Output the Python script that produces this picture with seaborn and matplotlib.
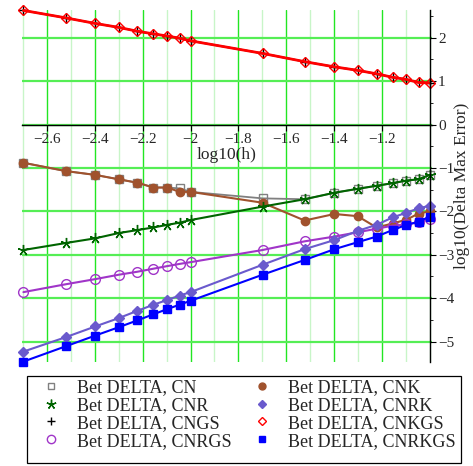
import seaborn as sns
import matplotlib.pyplot as plt
import matplotlib.ticker as mticker
from matplotlib.lines import Line2D
from matplotlib.patches import Rectangle
import pandas as pd

# log10 of step size h
log_h = [-2.699, -2.523, -2.398, -2.301, -2.222, -2.155, -2.097, -2.046, -2.0,
         -1.699, -1.523, -1.398, -1.301, -1.222, -1.155, -1.097, -1.046, -1.0]

# log10 of max error for each scheme
cn = [-0.88, -1.07, -1.16, -1.26, -1.34, -1.45, -1.45, -1.47, -1.55,
      -1.70, -1.72, -1.57, -1.48, -1.41, -1.35, -1.29, -1.26, -1.16]
cnr = [-2.89, -2.73, -2.62, -2.50, -2.43, -2.37, -2.31, -2.26, -2.20,
       -1.89, -1.72, -1.57, -1.48, -1.41, -1.35, -1.29, -1.26, -1.16]
cngs = [2.63, 2.46, 2.33, 2.24, 2.15, 2.09, 2.04, 1.99, 1.93,
        1.64, 1.45, 1.33, 1.25, 1.17, 1.09, 1.04, 0.97, 0.96]
cnrgs = [-3.86, -3.68, -3.56, -3.46, -3.39, -3.32, -3.26, -3.21, -3.17,
         -2.89, -2.69, -2.58, -2.48, -2.40, -2.33, -2.30, -2.25, -2.18]
cnk = [-0.88, -1.07, -1.16, -1.26, -1.34, -1.45, -1.45, -1.55, -1.55,
       -1.80, -2.21, -2.06, -2.11, -2.37, -2.28, -2.19, -2.05, -2.00]
cnrk = [-5.23, -4.90, -4.65, -4.46, -4.29, -4.15, -4.04, -3.94, -3.86,
        -3.23, -2.87, -2.66, -2.45, -2.31, -2.14, -2.03, -1.93, -1.87]
cnkgs = [2.63, 2.46, 2.33, 2.24, 2.15, 2.09, 2.04, 1.99, 1.93,
         1.64, 1.45, 1.33, 1.25, 1.17, 1.09, 1.04, 0.97, 0.96]
cnrkgs = [-5.46, -5.11, -4.86, -4.67, -4.51, -4.37, -4.25, -4.15, -4.06,
          -3.46, -3.12, -2.87, -2.71, -2.58, -2.43, -2.31, -2.24, -2.12]

labels = ["Bet DELTA, CN", "Bet DELTA, CNR", "Bet DELTA, CNGS", "Bet DELTA, CNRGS",
          "Bet DELTA, CNK", "Bet DELTA, CNRK", "Bet DELTA, CNKGS", "Bet DELTA, CNRKGS"]
values = [cn, cnr, cngs, cnrgs, cnk, cnrk, cnkgs, cnrkgs]

# (color, marker, size, filled, linewidth)
styles = {
    "Bet DELTA, CN": ("#808080", "s", 6, False, 1.3),
    "Bet DELTA, CNR": ("#006400", (5, 2, 0), 8, True, 1.5),
    "Bet DELTA, CNGS": ("black", "+", 7, True, 1.3),
    "Bet DELTA, CNRGS": ("#a035c8", "o", 7, False, 1.5),
    "Bet DELTA, CNK": ("#a0522d", "o", 6, True, 1.5),
    "Bet DELTA, CNRK": ("#6a5acd", "D", 5, True, 1.5),
    "Bet DELTA, CNKGS": ("#ff0000", "D", 5, False, 2.0),
    "Bet DELTA, CNRKGS": ("#0000ff", "s", 6, True, 1.5),
}
draw_order = ["Bet DELTA, CN", "Bet DELTA, CNK", "Bet DELTA, CNR", "Bet DELTA, CNRGS",
              "Bet DELTA, CNRK", "Bet DELTA, CNRKGS", "Bet DELTA, CNGS", "Bet DELTA, CNKGS"]

sns.set_style("white")
plt.rcParams["font.family"] = ["Liberation Serif", "DejaVu Serif"]

fig = plt.figure(figsize=(4.73, 4.66), dpi=100)
ax = fig.add_axes([22 / 473, 1 - 362 / 466, 410 / 473, 352 / 466])

for name in draw_order:
    color, marker, ms, filled, lw = styles[name]
    df = pd.DataFrame({"x": log_h, "y": values[labels.index(name)]})
    sns.lineplot(data=df, x="x", y="y", ax=ax, color=color, lw=lw,
                 marker=marker, markersize=ms,
                 markerfacecolor=color if filled else "none",
                 markeredgecolor=color, markeredgewidth=1.0,
                 clip_on=False, legend=False)

ax.set_xlim(-2.705, -0.99)
ax.set_ylim(-5.47, 2.64)

# axes crossing at x=-1, y=0
ax.spines["left"].set_visible(False)
ax.spines["top"].set_visible(False)
ax.spines["right"].set_position(("data", -1.0))
ax.spines["bottom"].set_position(("data", 0.0))
for s in ("right", "bottom"):
    ax.spines[s].set_color("black")
    ax.spines[s].set_linewidth(1.0)
ax.yaxis.tick_right()
ax.yaxis.set_label_position("right")

ax.set_xticks([-2.6, -2.4, -2.2, -2.0, -1.8, -1.6, -1.4, -1.2])
ax.set_xticklabels(["\u22122.6", "\u22122.4", "\u22122.2", "\u22122", "\u22121.8",
                    "\u22121.6", "\u22121.4", "\u22121.2"])
ax.xaxis.set_minor_locator(mticker.MultipleLocator(0.1))
ax.set_yticks([2, 1, 0, -1, -2, -3, -4, -5])
ax.yaxis.set_minor_locator(mticker.MultipleLocator(0.5))
ax.tick_params(axis="both", which="major", labelsize=11, direction="out",
               length=4, width=0.8, color="black", pad=2)
ax.tick_params(axis="both", which="minor", direction="out", length=2.5,
               width=0.6, color="black")
ax.tick_params(axis="x", bottom=True)
ax.tick_params(axis="y", right=True, left=False)

ax.grid(True, which="major", axis="x", color="#22e622", lw=1.0)
ax.grid(True, which="major", axis="y", color="#55ee55", lw=1.6)
ax.grid(True, which="minor", axis="x", color="#c8f5c8", lw=1.0)
ax.set_axisbelow(True)

ax.set_xlabel("log10(h)", fontsize=12.5, labelpad=1)
ax.set_ylabel("log10(Delta Max Error)", fontsize=12.5, labelpad=0)

# legend: frame drawn separately so the columns can be placed freely
fig.add_artist(Rectangle((27 / 473, 1 - 463 / 466), 434 / 473, 87 / 466,
                         transform=fig.transFigure, fill=False,
                         edgecolor="black", lw=0.9))
handles = []
for name in labels:
    color, marker, ms, filled, lw = styles[name]
    handles.append(Line2D([], [], linestyle="none", marker=marker, markersize=ms - 1,
                          color=color, markerfacecolor=color if filled else "none",
                          markeredgecolor=color, markeredgewidth=1.0))
fig.legend(handles, labels, ncol=2, loc="upper left",
           bbox_to_anchor=(42 / 473, 1 - 379 / 466),
           borderaxespad=0, borderpad=0, fontsize=13, frameon=False,
           labelspacing=0.05, handlelength=1.0, handletextpad=0.95,
           columnspacing=1.15)

fig.savefig("out.png", dpi=100)
